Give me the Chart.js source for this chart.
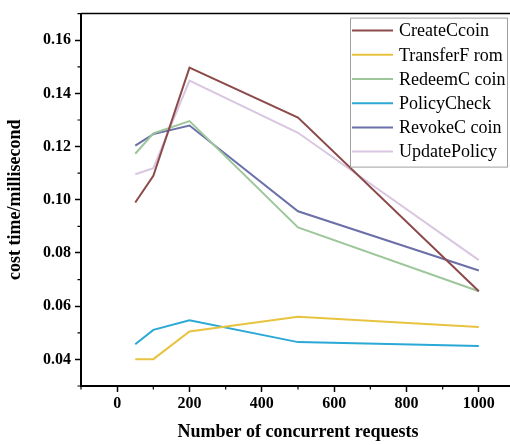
<!DOCTYPE html>
<html><head><meta charset="utf-8">
<script src="https://cdn.jsdelivr.net/npm/chart.js@4"></script>
<style>
html,body{margin:0;padding:0;overflow:hidden;background:#fff;width:510px;height:445px}
#wrap{width:520px;height:445px}
canvas{display:block}
</style></head>
<body><div id="wrap"><canvas id="c" width="520" height="445"></canvas></div>
<script>
// ---- data ----
const xValues = [50, 100, 200, 500, 1000];
const createCcoin  = [0.0990, 0.1090, 0.1497, 0.1309, 0.0656];
const transferFrom = [0.0401, 0.0401, 0.0505, 0.0560, 0.0522];
const redeemCcoin  = [0.1173, 0.1250, 0.1296, 0.0896, 0.0656];
const policyCheck  = [0.0457, 0.0511, 0.0547, 0.0465, 0.0450];
const revokeCcoin  = [0.1204, 0.1247, 0.1279, 0.0957, 0.0734];
const updatePolicy = [0.1096, 0.1119, 0.1448, 0.1252, 0.0773];
const seriesNames = ["CreateCcoin", "TransferF rom", "RedeemC coin", "PolicyCheck", "RevokeC coin", "UpdatePolicy"];
const seriesValues = [createCcoin, transferFrom, redeemCcoin, policyCheck, revokeCcoin, updatePolicy];
const seriesColors = ["#8c4a4a", "#e8c340", "#9dc79b", "#2aa8d6", "#6b70a8", "#d9c6e0"];
const xTickValues = [0, 200, 400, 600, 800, 1000];
const xMinorValues = [-100, 100, 300, 500, 700, 900, 1100];
const yTickValues = [0.04, 0.06, 0.08, 0.10, 0.12, 0.14, 0.16];
const yMinorValues = [0.03, 0.05, 0.07, 0.09, 0.11, 0.13, 0.15, 0.17];
const xTitle = "Number of concurrent requests";
const yTitle = "cost time/millisecond";

const SERIF = "'Liberation Serif', 'Times New Roman', serif";

const datasets = seriesNames.map((name, i) => ({
  label: name,
  data: xValues.map((x, j) => ({x: x, y: seriesValues[i][j]})),
  borderColor: seriesColors[i],
  backgroundColor: seriesColors[i],
  borderWidth: 2,
  pointRadius: 0,
  tension: 0,
  fill: false
}));

const framePlugin = {
  id: 'frame',
  afterDraw(chart) {
    const ctx = chart.ctx, a = chart.chartArea;
    const xs = chart.scales.x, ys = chart.scales.y;
    ctx.save();
    ctx.strokeStyle = '#000';
    ctx.lineWidth = 1.5;
    ctx.beginPath();
    ctx.moveTo(a.left, a.top); ctx.lineTo(a.right, a.top); ctx.lineTo(a.right, a.bottom);
    ctx.stroke();
    ctx.lineWidth = 1.2;
    ctx.beginPath();
    xMinorValues.forEach(v => {
      const px = xs.getPixelForValue(v);
      ctx.moveTo(px, a.bottom); ctx.lineTo(px, a.bottom + 3.5);
    });
    yMinorValues.forEach(v => {
      const py = ys.getPixelForValue(v);
      ctx.moveTo(a.left - 3.5, py); ctx.lineTo(a.left, py);
    });
    ctx.stroke();

    // legend box
    const bx = a.left + 269, by = a.top + 4, bw = 157, bh = 149;
    ctx.fillStyle = '#fff';
    ctx.fillRect(bx, by, bw, bh);
    ctx.strokeStyle = '#a0a0a0';
    ctx.lineWidth = 1;
    ctx.strokeRect(bx + 0.5, by + 0.5, bw, bh);
    ctx.font = "18px " + SERIF;
    ctx.textBaseline = 'middle';
    ctx.textAlign = 'left';
    chart.data.datasets.forEach((ds, i) => {
      const cy = by + 13 + i * 24.2;
      ctx.strokeStyle = ds.borderColor;
      ctx.lineWidth = 2;
      ctx.beginPath();
      ctx.moveTo(bx + 2, cy); ctx.lineTo(bx + 43, cy);
      ctx.stroke();
      ctx.fillStyle = '#000';
      ctx.fillText(ds.label, bx + 49, cy + 1);
    });
    ctx.restore();
  }
};

new Chart(document.getElementById('c'), {
  type: 'line',
  data: { datasets },
  plugins: [framePlugin],
  options: {
    responsive: false,
    animation: false,
    layout: { padding: { top: 9, right: 5, left: 0, bottom: 0 } },
    plugins: { legend: { display: false }, tooltip: { enabled: false } },
    scales: {
      x: {
        type: 'linear', min: -100, max: 1100,
        afterBuildTicks: s => { s.ticks = xTickValues.map(v => ({value: v})); },
        afterFit: s => { s.height = 59; },
        ticks: { color: '#000', font: { family: SERIF, size: 16, weight: 'bold' }, padding: 2, maxRotation: 0, autoSkip: false, callback: v => String(v) },
        grid: { drawOnChartArea: false, drawTicks: true, tickLength: 6, tickColor: '#000', tickWidth: 1.5 },
        border: { display: true, color: '#000', width: 2 },
        title: { display: true, text: xTitle, color: '#000', font: { family: SERIF, size: 18, weight: 'bold' }, padding: { top: 0, bottom: 2 } }
      },
      y: {
        type: 'linear', min: 0.03, max: 0.17,
        afterBuildTicks: s => { s.ticks = yTickValues.map(v => ({value: v})); },
        afterFit: s => { s.width = 81; },
        ticks: { color: '#000', font: { family: SERIF, size: 16, weight: 'bold' }, padding: 4, autoSkip: false, callback: v => Number(v).toFixed(2) },
        grid: { drawOnChartArea: false, drawTicks: true, tickLength: 6, tickColor: '#000', tickWidth: 1.5 },
        border: { display: true, color: '#000', width: 2 },
        title: { display: true, text: yTitle, color: '#000', font: { family: SERIF, size: 18, weight: 'bold' }, padding: { top: 5, bottom: 0 } }
      }
    }
  }
});
</script>
</body></html>
